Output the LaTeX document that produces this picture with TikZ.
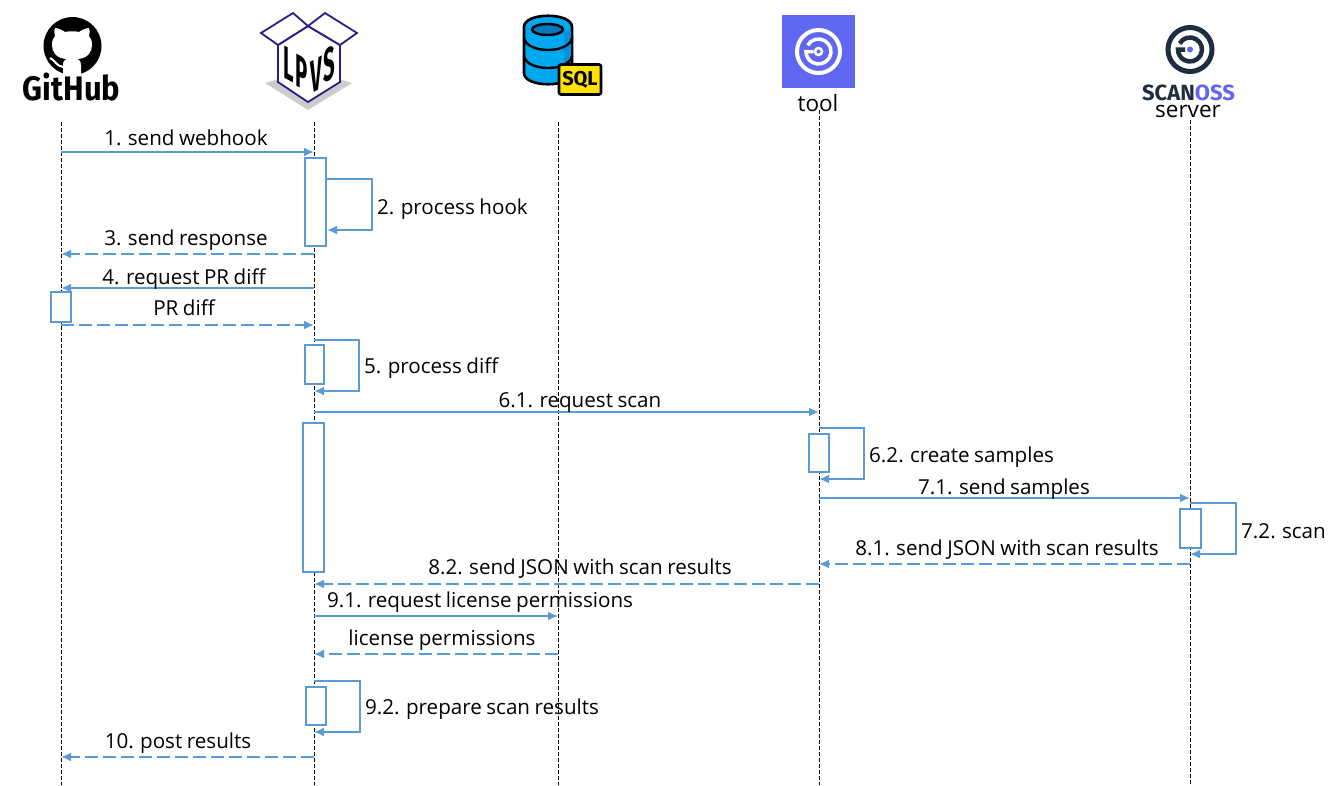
\documentclass[tikz,border=0pt]{standalone}
\usepackage{fontspec}
\setmainfont[WordSpace=.85]{Open Sans}
\newfontfamily\logofont{Fira Sans}
\usetikzlibrary{arrows.meta}
\definecolor{msgblue}{HTML}{5B9BD5}
\definecolor{scanblue}{HTML}{6067F1}
\definecolor{scandark}{HTML}{1F2D40}
\definecolor{dbblue}{HTML}{00A8F0}
\definecolor{dbshade}{HTML}{0090DC}
\definecolor{dbdark}{HTML}{0077BE}
\definecolor{lpvsline}{HTML}{2E1A87}
\tikzset{
  msg/.style={->, msgblue, line width=2pt},
  reply/.style={msg, dash pattern=on 13pt off 5pt},
  life/.style={black, line width=.9pt, dash pattern=on 3.5pt off 2.5pt},
  actbox/.style={draw=msgblue, fill=white, line width=2pt, inner sep=0pt, minimum width=#1},
  actbox/.default=20pt,
  msglabel/.style={anchor=base, font=\fontsize{20.6}{23}\selectfont, inner sep=0pt},
  looplabel/.style={msglabel, anchor=base west},
}
\begin{document}
\begin{tikzpicture}[>={Latex[length=10pt,width=9pt]}, x=1pt, y=-1pt]
  \useasboundingbox (0,0) rectangle (1334,785);
  % lifelines
  \foreach \name/\px/\top in {github/61/122, lpvs/314/122, db/558/122, tool/819/110, server/1190/120} {
    \coordinate (\name) at (\px,0);
    \draw[life] (\px,\top) -- (\px,785);
  }

  % github
  \fill[black] (72.5,46) circle (29);
  \fill[white] (63,75) -- (63,65) .. controls (63,61) and (65,60) .. (66,59)
    .. controls (56,58) and (52,52) .. (52,45) .. controls (52,41) and (53,38) .. (55,36)
    .. controls (54,33) and (54,30) .. (55,28) .. controls (58,28) and (62,30) .. (65,32)
    .. controls (69,31) and (76,31) .. (79,32) .. controls (82,30) and (86,28) .. (89,28)
    .. controls (90,30) and (90,33) .. (89,36) .. controls (91,38) and (92,41) .. (92,45)
    .. controls (92,52) and (88,58) .. (78,59) .. controls (80,60) and (81,62) .. (81,65)
    -- (81,75) -- cycle;
  \draw[white, line width=2pt] (50,58) .. controls (55,60) and (56,66) .. (63,67);
  \node[font=\logofont\bfseries\fontsize{34}{34}\selectfont, inner sep=0pt, anchor=base, xscale=.91, transform shape] (githublogo) at (71.5,100) {GitHub};

  % lpvs box
  \fill[black!20] (265,83) -- (308,110) -- (352,83) -- (308,70) -- cycle;
  \draw[lpvsline, line width=1.8pt, line join=miter, fill=white] (278,45) -- (308,26) -- (340,45) -- (340,82) -- (308,102) -- (278,82) -- cycle;
  \draw[lpvsline, line width=1.8pt, fill=white] (278,45) -- (261,33) -- (293,13) -- (308,26) -- (325,13) -- (357,33) -- (340,45) -- (308,26) -- cycle;
  \foreach \letter/\lx/\ly/\slant in {L/289/64/-.55, P/302/73/-.55, V/316/75/.55, S/329/64/.55} {
    \node[font=\logofont\bfseries\fontsize{30}{30}\selectfont, inner sep=0pt, yslant=\slant, yscale=1.55, xscale=.68, transform shape] (lpvs\letter) at (\lx,\ly) {\letter};
  }

  % database
  \draw[black, line width=2.6pt, fill=dbblue] (524,27) -- (524,73) .. controls (524,88) and (572,88) .. (572,73) -- (572,27) .. controls (572,12) and (524,12) .. cycle;
  \fill[dbshade] (564,31) -- (571,31) -- (571,72) -- (564,76) -- cycle;
  \draw[black, line width=2.4pt] (524,38) .. controls (527,54) and (569,54) .. (572,38);
  \draw[black, line width=2.4pt] (524,56) .. controls (527,72) and (569,72) .. (572,56);
  \draw[black, line width=2.4pt, fill=dbdark] (547.5,29.5) ellipse (15.5 and 5.5);
  \node[draw=black, line width=2.6pt, fill=yellow!85!orange, rounded corners=2pt, minimum width=42pt, minimum height=30pt, inner sep=0pt, font=\logofont\bfseries\fontsize{20}{20}\selectfont] (sqlbox) at (580,79.5) {SQL};

  % tool
  \node[fill=scanblue, minimum size=73pt, inner sep=0pt] (toolbox) at (818.5,51.5) {};
  \draw[white, line width=4pt] (toolbox.center) circle (21.5);
  \draw[white, line width=3.5pt] (toolbox.center) ++(150:12.5pt) arc[start angle=150, end angle=-180, radius=12.5pt] -- ++(7.5,0);
  \draw[white, line width=2.5pt] (toolbox.center) circle (3.5);
  \node[msglabel, font=\fontsize{22.5}{24}\selectfont] (toollabel) at (818,111) {tool};

  % scanoss
  \coordinate (scanmark) at (1190,49.5);
  \draw[scandark, line width=5pt] (scanmark) circle (22);
  \draw[scandark, line width=4.5pt] (scanmark) ++(150:12pt) arc[start angle=150, end angle=-180, radius=12pt] -- ++(7,0);
  \fill[scanblue] (scanmark) circle (3);
  \node[font=\logofont\bfseries\fontsize{22}{22}\selectfont, inner sep=0pt, anchor=base] (scanosslogo) at (1188.5,100) {\textcolor{scandark}{SCAN}\textcolor{scanblue}{OSS}};
  \node[msglabel, font=\fontsize{22.5}{24}\selectfont] (serverlabel) at (1188,117) {server};

  % messages
  \draw[msg] (github |- 0,152) -- (lpvs |- 0,152);
  \node[msglabel] (m1) at (186,145) {1. send webhook};

  \node[actbox=21pt, minimum height=88pt] (act1) at (315.5,202) {};
  \draw[msg] (act1.east |- 0,179) -- (372,179) -- (372,230) -- (act1.east |- 0,230);
  \node[looplabel] (m2) at (377,214) {2. process hook};

  \draw[reply] (lpvs |- 0,254) -- (github |- 0,254);
  \node[msglabel] (m3) at (186,245) {3. send response};
  \draw[msg] (lpvs |- 0,288) -- (github |- 0,288);
  \node[msglabel] (m4) at (184,284) {4. request PR diff};

  \node[actbox, minimum height=30pt] (act2) at (61,307) {};
  \draw[reply] (github |- 0,325) -- (lpvs |- 0,325);
  \node[msglabel] (m4b) at (184,315) {PR diff};

  \node[actbox=19pt, minimum height=39pt] (act3) at (314.5,364.5) {};
  \draw[msg] (lpvs |- 0,340) -- (359,340) -- (359,391) -- (lpvs |- 0,391);
  \node[looplabel] (m5) at (364,373) {5. process diff};

  \draw[msg] (lpvs |- 0,412) -- (tool |- 0,412);
  \node[msglabel] (m61) at (580,407) {6.1. request scan};
  \node[actbox=21pt, minimum height=149pt] (act4) at (313.5,497.5) {};

  \node[actbox, minimum height=38pt] (act5) at (819,453) {};
  \draw[msg] (tool |- 0,428) -- (864,428) -- (864,479) -- (tool |- 0,479);
  \node[looplabel] (m62) at (869,462) {6.2. create samples};

  \draw[msg] (tool |- 0,498) -- (server |- 0,498);
  \node[msglabel] (m71) at (1004,494) {7.1. send samples};

  \node[actbox=21pt, minimum height=39pt] (act6) at (1190.5,528.5) {};
  \draw[msg] (server |- 0,503) -- (1236,503) -- (1236,554) -- (server |- 0,554);
  \node[looplabel] (m72) at (1241,538) {7.2. scan};

  \draw[reply] (server |- 0,564) -- (tool |- 0,564);
  \node[msglabel] (m81) at (1007,555) {8.1. send JSON with scan results};
  \draw[reply] (tool |- 0,584) -- (lpvs |- 0,584);
  \node[msglabel] (m82) at (580,574) {8.2. send JSON with scan results};

  \draw[msg] (lpvs |- 0,616) -- (db |- 0,616);
  \node[msglabel] (m91) at (480,607) {9.1. request license permissions};
  \draw[reply] (db |- 0,654) -- (lpvs |- 0,654);
  \node[msglabel] (m91b) at (442,645) {license permissions};

  \node[actbox, minimum height=38pt] (act7) at (316,706) {};
  \draw[msg] (lpvs |- 0,681) -- (360,681) -- (360,732) -- (lpvs |- 0,732);
  \node[looplabel] (m92) at (365,714) {9.2. prepare scan results};

  \draw[reply] (lpvs |- 0,757) -- (github |- 0,757);
  \node[msglabel] (m10) at (178,748) {10. post results};
\end{tikzpicture}
\end{document}
